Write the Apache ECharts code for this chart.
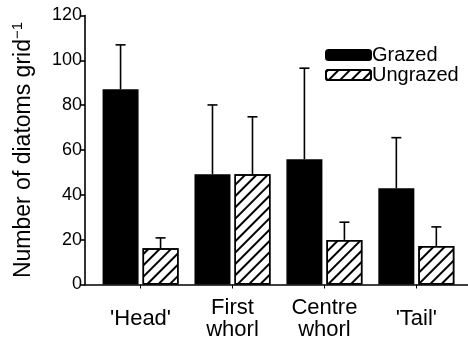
<!DOCTYPE html>
<html>
<head>
<meta charset="utf-8">
<script src="https://cdn.jsdelivr.net/npm/echarts@6/dist/echarts.min.js"></script>
<style>
  html, body { margin: 0; padding: 0; background: #fff; }
  #chart { width: 468px; height: 341px; }
</style>
</head>
<body>
<div id="chart"></div>
<script>
// data
var categories = ["'Head'", 'First\nwhorl', 'Centre\nwhorl', "'Tail'"];
var grazed = [87.1, 49.2, 55.9, 42.9];
var grazedSd = [19.8, 30.9, 40.6, 22.6];
var ungrazed = [16.2, 49.2, 19.9, 17.2];
var ungrazedSd = [4.6, 25.6, 7.9, 8.5];
var yTicks = [0, 20, 40, 60, 80, 100, 120];

var font = 'Arial, "Liberation Sans", sans-serif';
var barW = 36, barGap = 4;

function errBars(vals, sd, side) {
  return {
    type: 'custom',
    xAxisIndex: 1,
    yAxisIndex: 1,
    z: 1,
    silent: true,
    data: vals.map(function (v, i) { return [i, v, sd[i]]; }),
    renderItem: function (params, api) {
      var i = api.value(0), v = api.value(1), e = api.value(2);
      var off = side * (barW + barGap) / 2;
      var p0 = api.coord([i, v]);
      var p1 = api.coord([i, v + e]);
      var x = p0[0] + off;
      var st = { stroke: '#000', lineWidth: 1.6 };
      return {
        type: 'group',
        children: [
          { type: 'line', shape: { x1: x, y1: p0[1], x2: x, y2: p1[1] }, style: st },
          { type: 'line', shape: { x1: x - 5, y1: p1[1], x2: x + 5, y2: p1[1] }, style: st }
        ]
      };
    }
  };
}

var myChart = echarts.init(document.getElementById('chart'));
myChart.setOption({
  animation: false,
  textStyle: { fontFamily: font },
  grid: [
    { left: 85, right: 0, top: 15.5, bottom: 56.5 },
    { left: 94.6, right: 5.7, top: 15.5, bottom: 56.5 }
  ],
  legend: {
    orient: 'vertical',
    left: 320,
    top: 40,
    itemWidth: 45,
    itemHeight: 10,
    itemGap: 0,
    textStyle: { fontSize: 20, color: '#000', fontFamily: font, padding: [0, 0, 0, -4] },
    data: ['Grazed', 'Ungrazed']
  },
  xAxis: [
    {
      type: 'value', gridIndex: 0, min: 0, max: 1,
      axisLine: { show: true, onZero: false, lineStyle: { color: '#000', width: 1.6 } },
      axisTick: { show: false }, axisLabel: { show: false }, splitLine: { show: false }
    },
    {
      type: 'category', gridIndex: 1, data: categories,
      axisLine: { show: false },
      axisTick: { show: true, alignWithLabel: true, length: 4, lineStyle: { color: '#000', width: 1 } },
      axisLabel: {
        color: '#000', fontSize: 22, fontFamily: font, margin: 34, lineHeight: 22,
        verticalAlign: 'middle', interval: 0
      }
    }
  ],
  yAxis: [
    {
      type: 'value', gridIndex: 0, min: 0, max: 120, interval: 20,
      axisLine: { show: true, lineStyle: { color: '#000', width: 1.6 } },
      axisTick: { show: true, length: 5, lineStyle: { color: '#000', width: 1.6 } },
      axisLabel: {
        color: '#000', fontSize: 18, fontFamily: font, margin: 3,
        formatter: function (v) { return yTicks.indexOf(v) >= 0 ? String(v) : ''; }
      },
      splitLine: { show: false },
      name: '{a|Number of diatoms grid}{b|\u22121}',
      nameLocation: 'middle',
      nameGap: 48,
      nameTextStyle: {
        rich: {
          a: { fontSize: 23, color: '#000', fontFamily: font },
          b: { fontSize: 15, color: '#000', fontFamily: font, padding: [0, 0, 12, 0] }
        }
      }
    },
    {
      type: 'value', gridIndex: 1, min: 0, max: 120, interval: 20, show: false
    }
  ],
  series: [
    {
      name: 'Grazed', type: 'bar', xAxisIndex: 1, yAxisIndex: 1,
      barWidth: barW, barGap: (barGap / barW * 100) + '%',
      itemStyle: { color: '#000', borderColor: '#000', borderWidth: 1.5 },
      data: grazed
    },
    {
      name: 'Ungrazed', type: 'bar', xAxisIndex: 1, yAxisIndex: 1,
      barWidth: barW,
      itemStyle: {
        color: '#fff', borderColor: '#000', borderWidth: 1.5,
        decal: {
          symbol: 'rect', symbolSize: 1, color: '#000',
          dashArrayX: [1, 0], dashArrayY: [1.6, 5.8], rotation: -Math.PI / 4
        }
      },
      data: ungrazed
    },
    errBars(grazed, grazedSd, -1),
    errBars(ungrazed, ungrazedSd, 1)
  ]
});

window.addEventListener('resize', function () {
  myChart.resize();
});
</script>
</body>
</html>
